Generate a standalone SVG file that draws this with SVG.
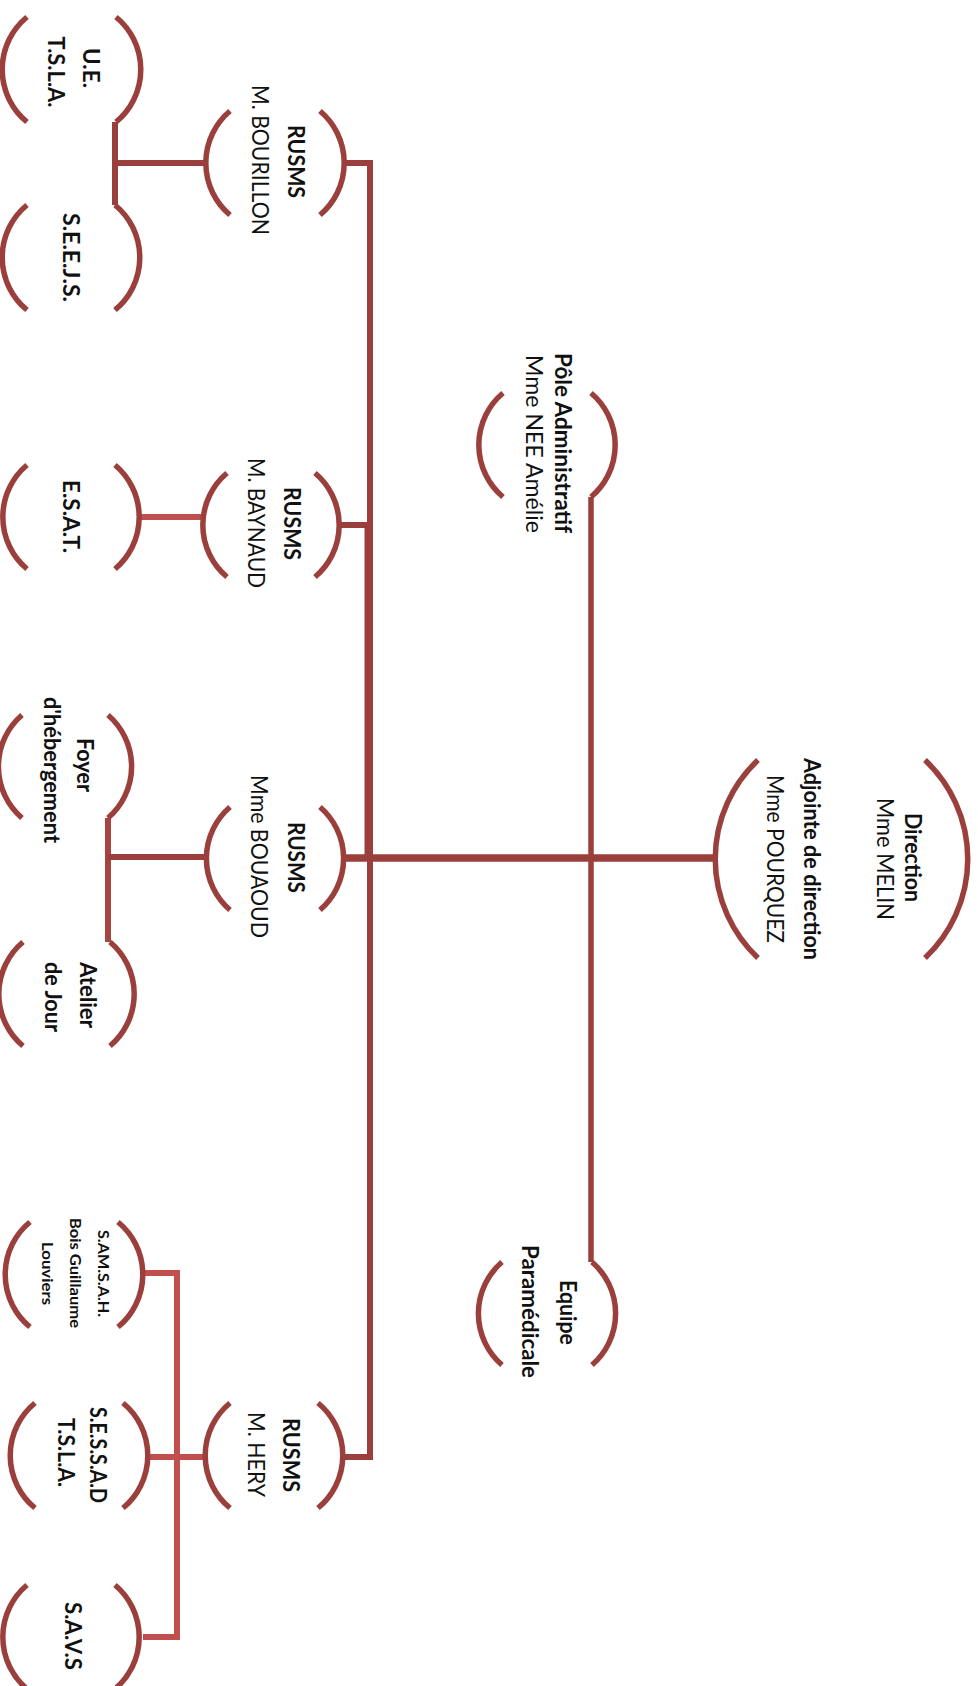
<svg xmlns="http://www.w3.org/2000/svg" width="978" height="1686" viewBox="0 0 978 1686">
<style>
.arc{fill:none;stroke:#9b3f3c;stroke-width:5.5;stroke-linecap:butt}
.c{fill:none;stroke:#9b3f3c;stroke-width:6}
.cl{fill:none;stroke:#c0504d;stroke-width:6}
text{font-family:Lato,"Liberation Sans",Arial,sans-serif;font-size:23px;fill:#111;text-anchor:middle}
.b{font-weight:bold}
.s{font-size:16px}
</style>
<rect width="978" height="1686" fill="#fff"/>
<g id="connectors">
<line class="c" x1="370" y1="160" x2="370" y2="1460"/>
<line class="c" x1="367.5" y1="525" x2="367.5" y2="858"/>
<polyline class="c" points="343,163 370,163"/>
<line class="c" x1="340" y1="525" x2="370" y2="525"/>
<line class="c" x1="343" y1="858" x2="715" y2="858" style="stroke-width:7.5"/>
<polyline class="c" points="343,1457 370,1457"/>
<line class="c" x1="591" y1="497" x2="591" y2="1262" style="stroke-width:5.5"/>
<line class="c" x1="115" y1="122" x2="115" y2="205"/>
<line class="c" x1="115" y1="163" x2="207" y2="163"/>
<line class="cl" x1="138" y1="517" x2="202" y2="517"/>
<line class="c" x1="108" y1="818" x2="108" y2="942" style="stroke:#a8443f"/>
<line class="c" x1="108" y1="857" x2="207" y2="857"/>
<polyline class="cl" points="140,1273 177,1273 177,1637 143,1637"/>
<line class="cl" x1="147" y1="1457" x2="203" y2="1457"/>
</g>
<g id="ue">
<path class="arc" d="M27,17 A68,68 0 0 0 27,122"/><path class="arc" d="M116,17 A68,68 0 0 1 116,122"/>
<text class="b" transform="translate(83,68) rotate(90)" textLength="40" lengthAdjust="spacingAndGlyphs">U.E.</text>
<text class="b" transform="translate(48,72) rotate(90)" textLength="71" lengthAdjust="spacingAndGlyphs">T.S.L.A.</text>
</g>
<g id="seejs">
<path class="arc" d="M27,205 A68,68 0 0 0 27,310"/><path class="arc" d="M115,205 A68,68 0 0 1 115,310"/>
<text class="b" transform="translate(63,257.5) rotate(90)" textLength="89" lengthAdjust="spacingAndGlyphs">S.E.E.J.S.</text>
</g>
<g id="bourillon">
<path class="arc" d="M230,111 A68,68 0 0 0 230,215"/><path class="arc" d="M320,111 A68,68 0 0 1 320,215"/>
<text class="b" transform="translate(288,161.5) rotate(90)" textLength="73" lengthAdjust="spacingAndGlyphs">RUSMS</text>
<text transform="translate(252,160) rotate(90)" textLength="150" lengthAdjust="spacingAndGlyphs">M. BOURILLON</text>
</g>
<g id="pole">
<path class="arc" d="M503,393 A68,68 0 0 0 503,497"/><path class="arc" d="M591,393 A68,68 0 0 1 591,497"/>
<text class="b" transform="translate(555,443) rotate(90)" textLength="180" lengthAdjust="spacingAndGlyphs">Pôle Administratif</text>
<text transform="translate(526,444) rotate(90)" textLength="178" lengthAdjust="spacingAndGlyphs">Mme NEE Amélie</text>
</g>
<g id="direction">
<path class="arc" d="M758,760 A136,136 0 0 0 758,958"/><path class="arc" d="M925,760 A136,136 0 0 1 925,958"/>
<text class="b" transform="translate(905,857.5) rotate(90)" textLength="89" lengthAdjust="spacingAndGlyphs">Direction</text>
<text transform="translate(877,859) rotate(90)" textLength="122" lengthAdjust="spacingAndGlyphs">Mme MELIN</text>
<text class="b" transform="translate(803.5,859) rotate(90)" textLength="202" lengthAdjust="spacingAndGlyphs">Adjointe de direction</text>
<text transform="translate(767,859) rotate(90)" textLength="168" lengthAdjust="spacingAndGlyphs">Mme POURQUEZ</text>
</g>
<g id="baynaud">
<path class="arc" d="M227,473 A68,68 0 0 0 227,577"/><path class="arc" d="M315,473 A68,68 0 0 1 315,577"/>
<text class="b" transform="translate(284,523.5) rotate(90)" textLength="73" lengthAdjust="spacingAndGlyphs">RUSMS</text>
<text transform="translate(248,523) rotate(90)" textLength="130" lengthAdjust="spacingAndGlyphs">M. BAYNAUD</text>
</g>
<g id="esat">
<path class="arc" d="M27,465 A68,68 0 0 0 27,569"/><path class="arc" d="M115,465 A68,68 0 0 1 115,569"/>
<text class="b" transform="translate(63,516.5) rotate(90)" textLength="73" lengthAdjust="spacingAndGlyphs">E.S.A.T.</text>
</g>
<g id="bouaoud">
<path class="arc" d="M230,807 A68,68 0 0 0 230,910"/><path class="arc" d="M320,807 A68,68 0 0 1 320,910"/>
<text class="b" transform="translate(288,857.5) rotate(90)" textLength="71" lengthAdjust="spacingAndGlyphs">RUSMS</text>
<text transform="translate(251,856.5) rotate(90)" textLength="163" lengthAdjust="spacingAndGlyphs">Mme BOUAOUD</text>
</g>
<g id="foyer">
<path class="arc" d="M22,715 A68,68 0 0 0 22,818"/><path class="arc" d="M108,715 A68,68 0 0 1 108,818"/>
<text class="b" transform="translate(77,765) rotate(90)" textLength="54" lengthAdjust="spacingAndGlyphs">Foyer</text>
<text class="b" transform="translate(44,770) rotate(90)" textLength="146" lengthAdjust="spacingAndGlyphs">d'hébergement</text>
</g>
<g id="atelier">
<path class="arc" d="M23,942 A68,68 0 0 0 23,1046"/><path class="arc" d="M110,942 A68,68 0 0 1 110,1046"/>
<text class="b" transform="translate(80,995) rotate(90)" textLength="66" lengthAdjust="spacingAndGlyphs">Atelier</text>
<text class="b" transform="translate(45,997) rotate(90)" textLength="70" lengthAdjust="spacingAndGlyphs">de Jour</text>
</g>
<g id="samsah">
<path class="arc" d="M30,1222 A68,68 0 0 0 30,1327"/><path class="arc" d="M118,1222 A68,68 0 0 1 118,1327"/>
<text class="b s" transform="translate(98,1273.5) rotate(90)" textLength="87" lengthAdjust="spacingAndGlyphs">S.AM.S.A.H.</text>
<text class="b s" transform="translate(70,1273) rotate(90)" textLength="110" lengthAdjust="spacingAndGlyphs">Bois Guillaume</text>
<text class="b s" transform="translate(42,1273.5) rotate(90)" textLength="63" lengthAdjust="spacingAndGlyphs">Louviers</text>
</g>
<g id="sessad">
<path class="arc" d="M35,1403 A68,68 0 0 0 35,1508"/><path class="arc" d="M123,1403 A68,68 0 0 1 123,1508"/>
<text class="b" transform="translate(90,1455) rotate(90)" textLength="96" lengthAdjust="spacingAndGlyphs">S.E.S.S.A.D</text>
<text class="b" transform="translate(58,1452.5) rotate(90)" textLength="69" lengthAdjust="spacingAndGlyphs">T.S.L.A.</text>
</g>
<g id="hery">
<path class="arc" d="M230,1403 A68,68 0 0 0 230,1508"/><path class="arc" d="M318,1403 A68,68 0 0 1 318,1508"/>
<text class="b" transform="translate(283,1455) rotate(90)" textLength="74" lengthAdjust="spacingAndGlyphs">RUSMS</text>
<text transform="translate(248,1454.5) rotate(90)" textLength="85" lengthAdjust="spacingAndGlyphs">M. HERY</text>
</g>
<g id="savs">
<path class="arc" d="M27,1585 A68,68 0 0 0 27,1689"/><path class="arc" d="M115,1585 A68,68 0 0 1 115,1689"/>
<text class="b" transform="translate(65,1636) rotate(90)" textLength="68" lengthAdjust="spacingAndGlyphs">S.A.V.S</text>
</g>
<g id="equipe">
<path class="arc" d="M502,1262 A68,68 0 0 0 502,1365"/><path class="arc" d="M592,1262 A68,68 0 0 1 592,1365"/>
<text class="b" transform="translate(559.5,1312.5) rotate(90)" textLength="65" lengthAdjust="spacingAndGlyphs">Equipe</text>
<text class="b" transform="translate(522,1311.5) rotate(90)" textLength="133" lengthAdjust="spacingAndGlyphs">Paramédicale</text>
</g>
</svg>
